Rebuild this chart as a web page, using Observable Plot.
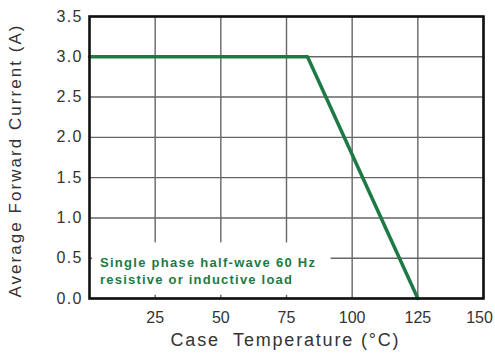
<!DOCTYPE html>
<html>
<head>
<meta charset="utf-8">
<script src="https://cdn.jsdelivr.net/npm/d3@7"></script>
<script src="https://cdn.jsdelivr.net/npm/@observablehq/plot@0.6"></script>
<style>
  html, body { margin: 0; padding: 0; background: #fff; }
  svg text { white-space: pre; }
</style>
</head>
<body>
<div id="chart"></div>
<script>
const temps = [0, 83, 125];
const currents = [3.0, 3.0, 0.0];
const xTicks = [25, 50, 75, 100, 125, 150];
const yTicks = [0, 0.5, 1.0, 1.5, 2.0, 2.5, 3.0, 3.5];
const noteLines = ["Single phase half-wave 60 Hz", "resistive or inductive load"];
const xLabel = "Case  Temperature (°C)";
const yLabel = "Average Forward Current (A)";
const noteBox = [{x1: 1.2, x2: 92, y1: 0.04, y2: 0.69}];

const data = temps.map((t, i) => ({t, c: currents[i]}));
const green = "#1d7a45";

const chart = Plot.plot({
  width: 495,
  height: 361,
  marginLeft: 89,
  marginRight: 12,
  marginTop: 16,
  marginBottom: 63,
  style: {fontFamily: "'Liberation Sans', Arial, sans-serif", background: "#fff"},
  x: {domain: [0, 150]},
  y: {domain: [0, 3.5]},
  marks: [
    Plot.gridX(xTicks, {stroke: "#666", strokeOpacity: 1, strokeWidth: 1.4}),
    Plot.gridY(yTicks, {stroke: "#666", strokeOpacity: 1, strokeWidth: 1.4}),
    Plot.rect(noteBox, {x1: "x1", x2: "x2", y1: "y1", y2: "y2", fill: "white"}),
    Plot.line(data, {x: "t", y: "c", stroke: green, strokeWidth: 3.5}),
    Plot.frame({stroke: "#111", strokeWidth: 2.6}),
    Plot.axisX(xTicks, {tickSize: 0, tickPadding: 13, fontSize: 16, fill: "#333", label: null}),
    Plot.axisY(yTicks, {tickSize: 0, tickPadding: 8, fontSize: 16, fill: "#333", label: null, tickFormat: d => d.toFixed(1)}),
    Plot.text([noteLines.join("\n")], {x: 4, y: 0.35, text: d => d, textAnchor: "start", lineAnchor: "middle", lineHeight: 1.3, fontSize: 13, fontWeight: "bold", fill: green}),
    Plot.text([xLabel], {frameAnchor: "bottom", dy: 47, dx: -2, text: d => d, fontSize: 18, fill: "#333"}),
    Plot.text([yLabel], {frameAnchor: "left", textAnchor: "middle", dx: -74, dy: 4, rotate: -90, text: d => d, fontSize: 17, fill: "#333"})
  ]
});
document.getElementById("chart").appendChild(chart);

// Widen text to match the reference's looser letter spacing
const yTickStrs = yTicks.map(d => d.toFixed(1));
const lastX = String(xTicks[xTicks.length - 1]);
d3.select(chart).selectAll("text").each(function () {
  const el = d3.select(this);
  const t = this.textContent;
  if (t === xLabel) el.attr("textLength", 228).attr("lengthAdjust", "spacing");
  else if (t === yLabel) el.attr("textLength", 272).attr("lengthAdjust", "spacing");
  else if (yTickStrs.includes(t)) el.attr("textLength", 25).attr("lengthAdjust", "spacing");
  else if (t === lastX) el.attr("dx", -4);
});
d3.select(chart).selectAll("tspan").each(function () {
  const el = d3.select(this);
  const t = this.textContent;
  if (t === noteLines[0]) el.attr("textLength", 215).attr("lengthAdjust", "spacing");
  else if (t === noteLines[1]) el.attr("textLength", 192).attr("lengthAdjust", "spacing");
});
</script>
</body>
</html>
